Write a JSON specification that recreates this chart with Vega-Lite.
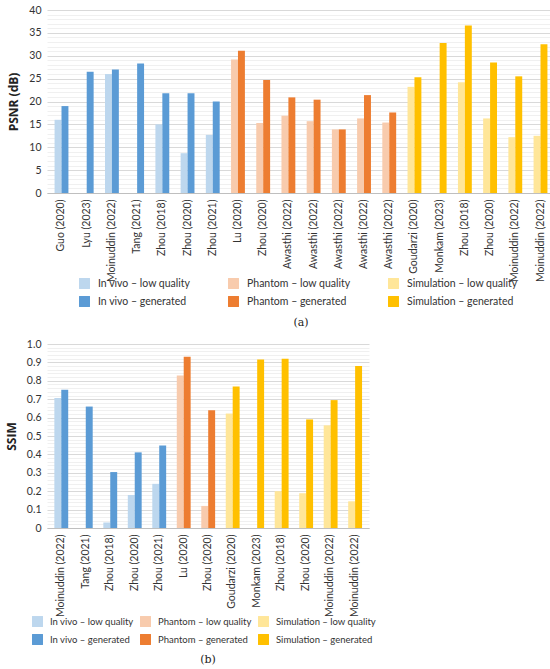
{
  "$schema": "https://vega.github.io/schema/vega-lite/v6.json",
  "description": "PSNR and SSIM of low quality vs generated images, grouped by study.",
  "config": {
    "font": "Lato",
    "view": {"stroke": null},
    "axis": {
      "labelFont": "Lato",
      "labelFontSize": 10.5,
      "labelColor": "#333333",
      "titleFont": "Open Sans",
      "titleColor": "#222222"
    },
    "legend": {
      "labelFont": "Lato",
      "labelFontSize": 10.5,
      "labelColor": "#333333",
      "symbolType": "square",
      "symbolSize": 120,
      "symbolStrokeWidth": 0,
      "labelOffset": 8,
      "rowPadding": 7
    },
    "title": {"font": "DejaVu Serif", "fontSize": 11, "fontWeight": "normal", "color": "#222222"}
  },
  "datasets": {
    "psnr": [
      {"study": "Guo (2020)", "kind": "low", "series": "In vivo – low quality", "value": 16},
      {"study": "Guo (2020)", "kind": "gen", "series": "In vivo – generated", "value": 19},
      {"study": "Lyu (2023)", "kind": "gen", "series": "In vivo – generated", "value": 26.5},
      {"study": "Moinuddin (2022)", "kind": "low", "series": "In vivo – low quality", "value": 26},
      {"study": "Moinuddin (2022)", "kind": "gen", "series": "In vivo – generated", "value": 27},
      {"study": "Tang (2021)", "kind": "gen", "series": "In vivo – generated", "value": 28.3},
      {"study": "Zhou (2018)", "kind": "low", "series": "In vivo – low quality", "value": 15},
      {"study": "Zhou (2018)", "kind": "gen", "series": "In vivo – generated", "value": 21.8},
      {"study": "Zhou (2020)", "kind": "low", "series": "In vivo – low quality", "value": 8.7},
      {"study": "Zhou (2020)", "kind": "gen", "series": "In vivo – generated", "value": 21.8},
      {"study": "Zhou (2021)", "kind": "low", "series": "In vivo – low quality", "value": 12.7},
      {"study": "Zhou (2021)", "kind": "gen", "series": "In vivo – generated", "value": 20},
      {"study": "Lu (2020)", "kind": "low", "series": "Phantom – low quality", "value": 29.2},
      {"study": "Lu (2020)", "kind": "gen", "series": "Phantom – generated", "value": 31.1},
      {"study": "Zhou (2020)|2", "kind": "low", "series": "Phantom – low quality", "value": 15.3},
      {"study": "Zhou (2020)|2", "kind": "gen", "series": "Phantom – generated", "value": 24.7},
      {"study": "Awasthi (2022)", "kind": "low", "series": "Phantom – low quality", "value": 16.9},
      {"study": "Awasthi (2022)", "kind": "gen", "series": "Phantom – generated", "value": 20.9},
      {"study": "Awasthi (2022)|2", "kind": "low", "series": "Phantom – low quality", "value": 15.7},
      {"study": "Awasthi (2022)|2", "kind": "gen", "series": "Phantom – generated", "value": 20.4},
      {"study": "Awasthi (2022)|3", "kind": "low", "series": "Phantom – low quality", "value": 13.9},
      {"study": "Awasthi (2022)|3", "kind": "gen", "series": "Phantom – generated", "value": 13.9},
      {"study": "Awasthi (2022)|4", "kind": "low", "series": "Phantom – low quality", "value": 16.3},
      {"study": "Awasthi (2022)|4", "kind": "gen", "series": "Phantom – generated", "value": 21.4},
      {"study": "Awasthi (2022)|5", "kind": "low", "series": "Phantom – low quality", "value": 15.4},
      {"study": "Awasthi (2022)|5", "kind": "gen", "series": "Phantom – generated", "value": 17.6},
      {"study": "Goudarzi (2020)", "kind": "low", "series": "Simulation – low quality", "value": 23.2},
      {"study": "Goudarzi (2020)", "kind": "gen", "series": "Simulation – generated", "value": 25.3},
      {"study": "Monkam (2023)", "kind": "gen", "series": "Simulation – generated", "value": 32.8},
      {"study": "Zhou (2018)|2", "kind": "low", "series": "Simulation – low quality", "value": 24.2},
      {"study": "Zhou (2018)|2", "kind": "gen", "series": "Simulation – generated", "value": 36.6},
      {"study": "Zhou (2020)|3", "kind": "low", "series": "Simulation – low quality", "value": 16.3},
      {"study": "Zhou (2020)|3", "kind": "gen", "series": "Simulation – generated", "value": 28.5},
      {"study": "Moinuddin (2022)|2", "kind": "low", "series": "Simulation – low quality", "value": 12.2},
      {"study": "Moinuddin (2022)|2", "kind": "gen", "series": "Simulation – generated", "value": 25.5},
      {"study": "Moinuddin (2022)|3", "kind": "low", "series": "Simulation – low quality", "value": 12.5},
      {"study": "Moinuddin (2022)|3", "kind": "gen", "series": "Simulation – generated", "value": 32.5}
    ],
    "ssim": [
      {"study": "Moinuddin (2022)", "kind": "low", "series": "In vivo – low quality", "value": 0.707},
      {"study": "Moinuddin (2022)", "kind": "gen", "series": "In vivo – generated", "value": 0.751},
      {"study": "Tang (2021)", "kind": "gen", "series": "In vivo – generated", "value": 0.66},
      {"study": "Zhou (2018)", "kind": "low", "series": "In vivo – low quality", "value": 0.03},
      {"study": "Zhou (2018)", "kind": "gen", "series": "In vivo – generated", "value": 0.304},
      {"study": "Zhou (2020)", "kind": "low", "series": "In vivo – low quality", "value": 0.18},
      {"study": "Zhou (2020)", "kind": "gen", "series": "In vivo – generated", "value": 0.411},
      {"study": "Zhou (2021)", "kind": "low", "series": "In vivo – low quality", "value": 0.24},
      {"study": "Zhou (2021)", "kind": "gen", "series": "In vivo – generated", "value": 0.449},
      {"study": "Lu (2020)", "kind": "low", "series": "Phantom – low quality", "value": 0.829},
      {"study": "Lu (2020)", "kind": "gen", "series": "Phantom – generated", "value": 0.931},
      {"study": "Zhou (2020)|2", "kind": "low", "series": "Phantom – low quality", "value": 0.12},
      {"study": "Zhou (2020)|2", "kind": "gen", "series": "Phantom – generated", "value": 0.64},
      {"study": "Goudarzi (2020)", "kind": "low", "series": "Simulation – low quality", "value": 0.622},
      {"study": "Goudarzi (2020)", "kind": "gen", "series": "Simulation – generated", "value": 0.769},
      {"study": "Monkam (2023)", "kind": "gen", "series": "Simulation – generated", "value": 0.916},
      {"study": "Zhou (2018)|2", "kind": "low", "series": "Simulation – low quality", "value": 0.2},
      {"study": "Zhou (2018)|2", "kind": "gen", "series": "Simulation – generated", "value": 0.92},
      {"study": "Zhou (2020)|3", "kind": "low", "series": "Simulation – low quality", "value": 0.189},
      {"study": "Zhou (2020)|3", "kind": "gen", "series": "Simulation – generated", "value": 0.59},
      {"study": "Moinuddin (2022)|2", "kind": "low", "series": "Simulation – low quality", "value": 0.558},
      {"study": "Moinuddin (2022)|2", "kind": "gen", "series": "Simulation – generated", "value": 0.695},
      {"study": "Moinuddin (2022)|3", "kind": "low", "series": "Simulation – low quality", "value": 0.145},
      {"study": "Moinuddin (2022)|3", "kind": "gen", "series": "Simulation – generated", "value": 0.88}
    ]
  },
  "spacing": 11,
  "vconcat": [
    {
      "data": {"name": "psnr"},
      "width": 508,
      "height": 183,
      "title": {"text": "(a)", "orient": "bottom", "offset": 10},
      "mark": {"type": "bar"},
      "encoding": {
        "x": {
          "field": "study",
          "type": "nominal",
          "sort": null,
          "title": null,
          "scale": {"paddingInner": 0.45, "paddingOuter": 0.3},
          "axis": {
            "labelAngle": -90,
            "labelExpr": "split(datum.label, '|')[0]",
            "ticks": false,
            "labelPadding": 6,
            "domainColor": "#bfbfbf"
          }
        },
        "xOffset": {"field": "kind", "scale": {"domain": ["low", "gen"]}},
        "y": {
          "field": "value",
          "type": "quantitative",
          "title": "PSNR (dB)",
          "scale": {"domain": [0, 40], "nice": false},
          "axis": {
            "titleFontSize": 12,
            "titleFontWeight": "bold",
            "titlePadding": 8,
            "domain": false,
            "ticks": false,
            "labelPadding": 6,
            "values": [0,1,2,3,4,5,6,7,8,9,10,11,12,13,14,15,16,17,18,19,20,21,22,23,24,25,26,27,28,29,30,31,32,33,34,35,36,37,38,39,40],
            "labelExpr": "datum.value % 5 === 0 ? datum.label : ''",
            "gridColor": {"condition": {"test": "datum.value % 5 === 0", "value": "#d9d9d9"}, "value": "#f0f0f0"}
          }
        },
        "color": {
          "field": "series",
          "type": "nominal",
          "scale": {
            "domain": ["In vivo – low quality", "Phantom – low quality", "Simulation – low quality", "In vivo – generated", "Phantom – generated", "Simulation – generated"],
            "range": ["#bdd7ee", "#f8cbad", "#ffe699", "#5b9bd5", "#ed7d31", "#ffc000"]
          },
          "legend": {
            "title": null,
            "orient": "none",
            "legendX": 32,
            "legendY": 268,
            "direction": "horizontal",
            "columns": 3,
            "columnPadding": 37
          }
        }
      }
    },
    {
      "data": {"name": "ssim"},
      "width": 322,
      "height": 184,
      "title": {"text": "(b)", "orient": "bottom", "offset": 9},
      "mark": {"type": "bar"},
      "encoding": {
        "x": {
          "field": "study",
          "type": "nominal",
          "sort": null,
          "title": null,
          "scale": {"paddingInner": 0.45, "paddingOuter": 0.3},
          "axis": {
            "labelAngle": -90,
            "labelExpr": "split(datum.label, '|')[0]",
            "ticks": false,
            "labelPadding": 6,
            "domainColor": "#bfbfbf"
          }
        },
        "xOffset": {"field": "kind", "scale": {"domain": ["low", "gen"]}},
        "y": {
          "field": "value",
          "type": "quantitative",
          "title": "SSIM",
          "scale": {"domain": [0, 1], "nice": false},
          "axis": {
            "titleFontSize": 12,
            "titleFontWeight": "bold",
            "titlePadding": 8,
            "domain": false,
            "ticks": false,
            "labelPadding": 6,
            "values": [0,0.02,0.04,0.06,0.08,0.1,0.12,0.14,0.16,0.18,0.2,0.22,0.24,0.26,0.28,0.3,0.32,0.34,0.36,0.38,0.4,0.42,0.44,0.46,0.48,0.5,0.52,0.54,0.56,0.58,0.6,0.62,0.64,0.66,0.68,0.7,0.72,0.74,0.76,0.78,0.8,0.82,0.84,0.86,0.88,0.9,0.92,0.94,0.96,0.98,1],
            "labelExpr": "abs(datum.value * 10 - round(datum.value * 10)) < 0.001 ? (datum.value === 0 ? '0' : format(datum.value, '.1f')) : ''",
            "gridColor": {"condition": {"test": "abs(datum.value * 10 - round(datum.value * 10)) < 0.001", "value": "#d9d9d9"}, "value": "#f0f0f0"}
          }
        },
        "color": {
          "field": "series",
          "type": "nominal",
          "scale": {
            "domain": ["In vivo – low quality", "Phantom – low quality", "Simulation – low quality", "In vivo – generated", "Phantom – generated", "Simulation – generated"],
            "range": ["#bdd7ee", "#f8cbad", "#ffe699", "#5b9bd5", "#ed7d31", "#ffc000"]
          },
          "legend": {
            "title": null,
            "orient": "none",
            "legendX": -15,
            "legendY": 272,
            "direction": "horizontal",
            "columns": 3,
            "columnPadding": 6,
            "labelFontSize": 9.5,
            "labelOffset": 7
          }
        }
      }
    }
  ],
  "resolve": {"scale": {"color": "independent", "x": "independent", "y": "independent"}, "legend": {"color": "independent"}}
}
